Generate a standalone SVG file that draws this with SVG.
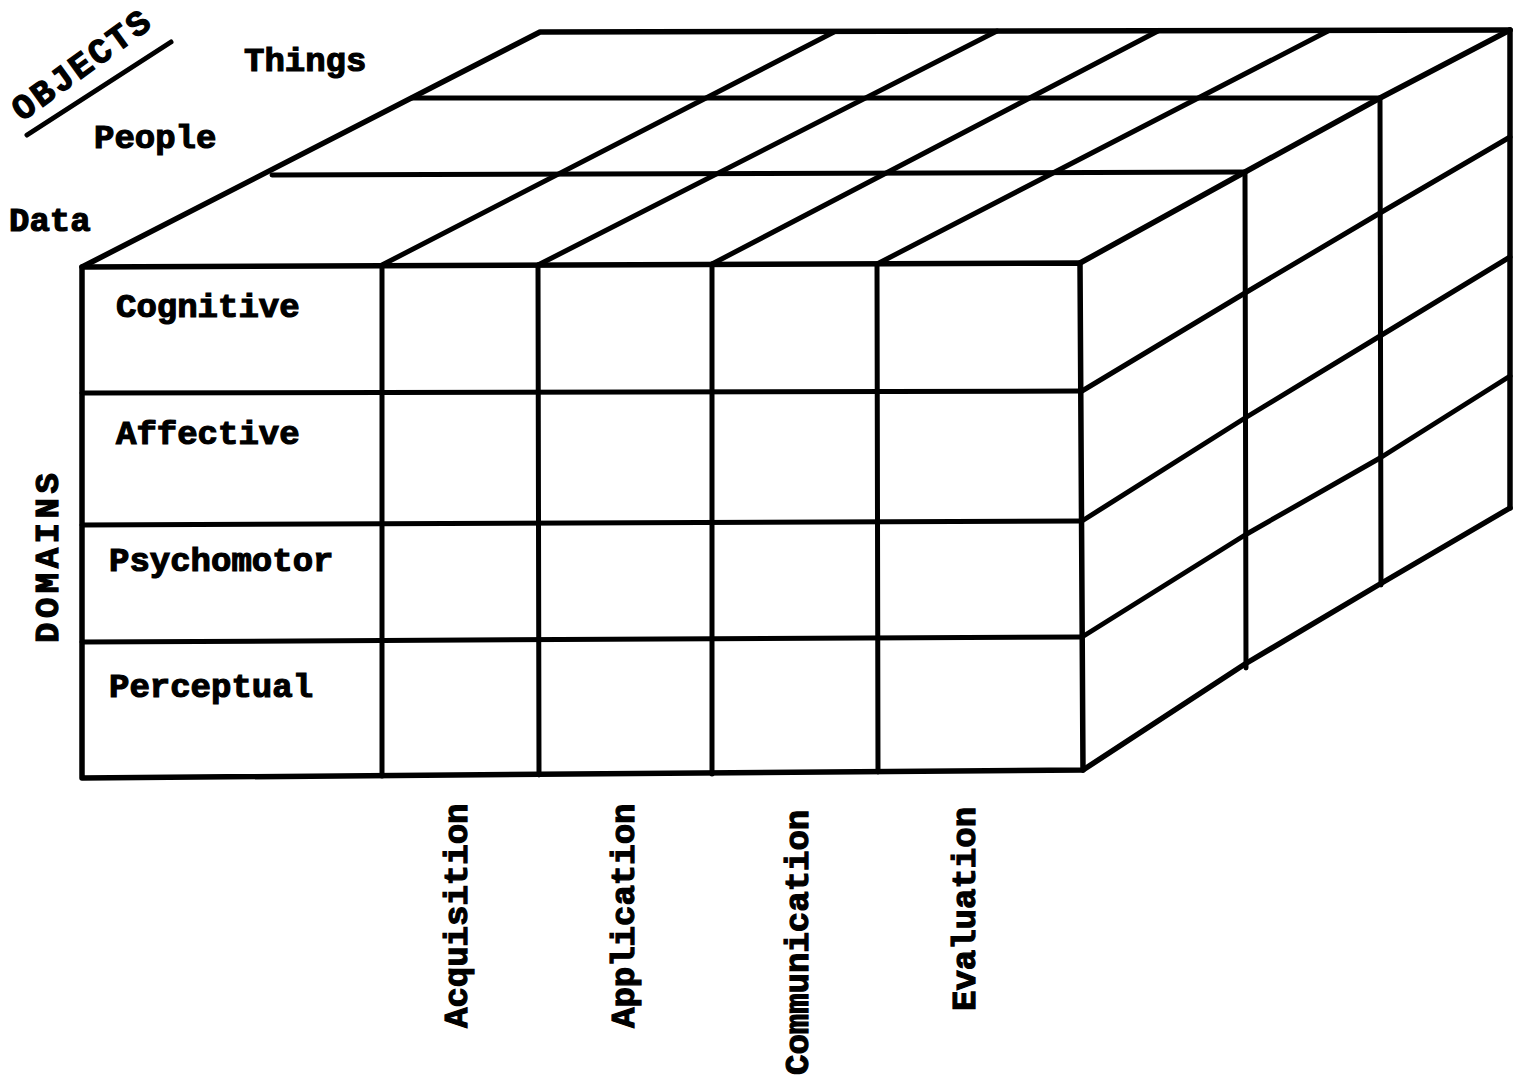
<svg xmlns="http://www.w3.org/2000/svg" width="1526" height="1080" viewBox="0 0 1526 1080">
  <style>
    .ln { fill: none; stroke: #000; stroke-width: 5; stroke-linecap: round; stroke-linejoin: round; }
    .edge { stroke-width: 5.5; }
    .lbl { font-family: "Liberation Mono", "Courier New", monospace; font-weight: bold; font-size: 34px; fill: #000; stroke: #000; stroke-width: 1.2; }
  </style>
  <rect width="1526" height="1080" fill="#fff"/>

  <!-- top face: Objects axis (Data / People / Things) -->
  <g id="top-face">
    <path class="ln edge" d="M82,267 L540,32 L1510,30"/>
    <path class="ln" d="M272,175 L1245,172"/>
    <path class="ln" d="M412,98 L1380,98"/>
    <path class="ln" d="M382,265 L834,32"/>
    <path class="ln" d="M538,265 L997,31"/>
    <path class="ln" d="M712,264 L1158,31"/>
    <path class="ln" d="M877,264 L1328,31"/>
    <path class="ln edge" d="M1080,263 L1245,172 L1380,98 L1510,30"/>
  </g>

  <!-- right face -->
  <g id="right-face">
    <path class="ln" d="M1245,172 L1246,668"/>
    <path class="ln" d="M1380,98 L1381,585"/>
    <path class="ln edge" d="M1510,30 L1510,508"/>
    <path class="ln" d="M1082,391 L1245,293 L1380,213 L1510,137"/>
    <path class="ln" d="M1082,521 L1245,418 L1380,336 L1510,257"/>
    <path class="ln" d="M1082,637 L1245,535 L1380,458 L1510,376"/>
    <path class="ln edge" d="M1083,770 L1245,664 L1380,584 L1510,508"/>
  </g>

  <!-- front face: Domains x Processes grid -->
  <g id="front-face">
    <path class="ln edge" d="M82,267 L1080,263 L1083,770 L82,778 Z"/>
    <path class="ln" d="M82,393 L1082,391"/>
    <path class="ln" d="M82,525 L1082,521"/>
    <path class="ln" d="M82,642 L1082,637"/>
    <path class="ln" d="M382,266 L382,776"/>
    <path class="ln" d="M538,265 L539,775"/>
    <path class="ln" d="M712,264 L712,774"/>
    <path class="ln" d="M877,264 L878,772"/>
  </g>

  <!-- objects axis labels -->
  <g id="objects-labels">
    <g transform="translate(22,122) rotate(-36)">
      <text class="lbl" x="0" y="0" style="font-size:35px;letter-spacing:2.5px">OBJECTS</text>
    </g>
    <path class="ln" d="M27,135 L171,42"/>
    <text class="lbl" x="244" y="71">Things</text>
    <text class="lbl" x="94" y="148">People</text>
    <text class="lbl" x="9" y="231">Data</text>
  </g>

  <!-- domain labels -->
  <g id="domain-labels">
    <text class="lbl" x="116" y="317">Cognitive</text>
    <text class="lbl" x="116" y="444">Affective</text>
    <text class="lbl" x="109" y="571">Psychomotor</text>
    <text class="lbl" x="109" y="697">Perceptual</text>
    <text class="lbl" transform="translate(58,643) rotate(-90)" style="letter-spacing:4.5px">DOMAINS</text>
  </g>

  <!-- process labels -->
  <g id="process-labels">
    <text class="lbl" transform="translate(467,1028) rotate(-90)">Acquisition</text>
    <text class="lbl" transform="translate(634,1028) rotate(-90)">Application</text>
    <text class="lbl" transform="translate(808,1075) rotate(-90)">Communication</text>
    <text class="lbl" transform="translate(975,1011) rotate(-90)">Evaluation</text>
  </g>
</svg>
